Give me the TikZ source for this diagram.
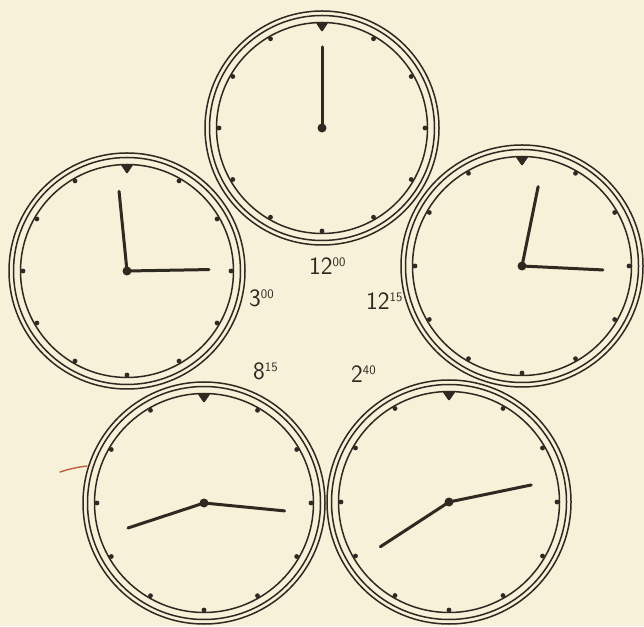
\documentclass[tikz,border=0pt]{standalone}
\usepackage{xcolor}
\usepackage{tikz}
\usetikzlibrary{
    calc
}
\definecolor{paper}{RGB}{246,241,216}
\definecolor{ink}{RGB}{46,41,33}
\definecolor{redpen}{RGB}{186,98,62}
\tikzset{
    ring/.style={
        draw=ink,
        line width=1.5pt
    }
}
\tikzset{
    hand/.style={
        draw=ink,
        line width=3pt,
        line cap=round
    }
}
\tikzset{
    hourmark/.style={
        fill=ink
    }
}
\tikzset{
    timelabel/.style={
        font=\sffamily\fontsize{25}{25}\selectfont,
        text=ink,
        inner sep=0pt,
        anchor=base west
    }
}
\newcommand{\clocktime}[2]{#1\raisebox{0.34em}{\fontsize{13}{13}\selectfont#2}}
% dial of a clock: centre name, outer radius
\newcommand{\clockdial}[2]{%
    \draw[ring] (#1) circle[radius=#2];
    \draw[ring] (#1) circle[radius=#2-4.5];
    \draw[ring] (#1) circle[radius=#2-11.5];
    \foreach \h in {1,...,11}
        \fill[hourmark] ($(#1)+(90-30*\h:#2-14)$) circle[radius=2.4];
    \fill[ink, rounded corners=1pt]
        ($(#1)+(93.4:#2-11.5)$) -- ($(#1)+(86.6:#2-11.5)$) -- ($(#1)+(90:#2-21)$) -- cycle;
    \fill[ink] (#1) circle[radius=4.5];
}

\begin{document}
\begin{tikzpicture}[x=1pt, y=1pt]

\fill[paper] (0,0) rectangle (644,626);
\useasboundingbox (0,0) rectangle (644,626);

% =========================================================
% Centres
% =========================================================

\coordinate (noon)    at (322,498);
\coordinate (three)   at (127,355);
\coordinate (quarter) at (522,360);
\coordinate (eight)   at (204,123);
\coordinate (twofort) at (449,124);

% =========================================================
% 12:00
% =========================================================

\clockdial{noon}{117}
\draw[hand] (noon) -- ++(90:81);

\node[timelabel] (lnoon) at (309,351) {\clocktime{12}{00}};

% =========================================================
% 3:00
% =========================================================

\clockdial{three}{118}
\draw[hand] (three) -- ++(95.7:80);
\draw[hand] (three) -- ++(1:82);

\node[timelabel] (lthree) at (249,319) {\clocktime{3}{00}};

% =========================================================
% 12:15
% =========================================================

\clockdial{quarter}{121}
\draw[hand] (quarter) -- ++(78.5:81);
\draw[hand] (quarter) -- ++(-2.8:81);

\node[timelabel] (lquarter) at (366,316) {\clocktime{12}{15}};

% =========================================================
% 8:15
% =========================================================

\clockdial{eight}{121}
\draw[hand] (eight) -- ++(198.2:80);
\draw[hand] (eight) -- ++(-5.6:81);

\node[timelabel] (leight) at (253,246) {\clocktime{8}{15}};

% =========================================================
% 2:40
% =========================================================

\clockdial{twofort}{122}
\draw[hand] (twofort) -- ++(213.1:82);
\draw[hand] (twofort) -- ++(11.7:84);

\node[timelabel] (ltwofort) at (351,243) {\clocktime{2}{40}};

% stray pen mark
\draw[redpen, line width=1.4pt, line cap=round] (60,154) to[bend left=5] (87,160);

\end{tikzpicture}
\end{document}
